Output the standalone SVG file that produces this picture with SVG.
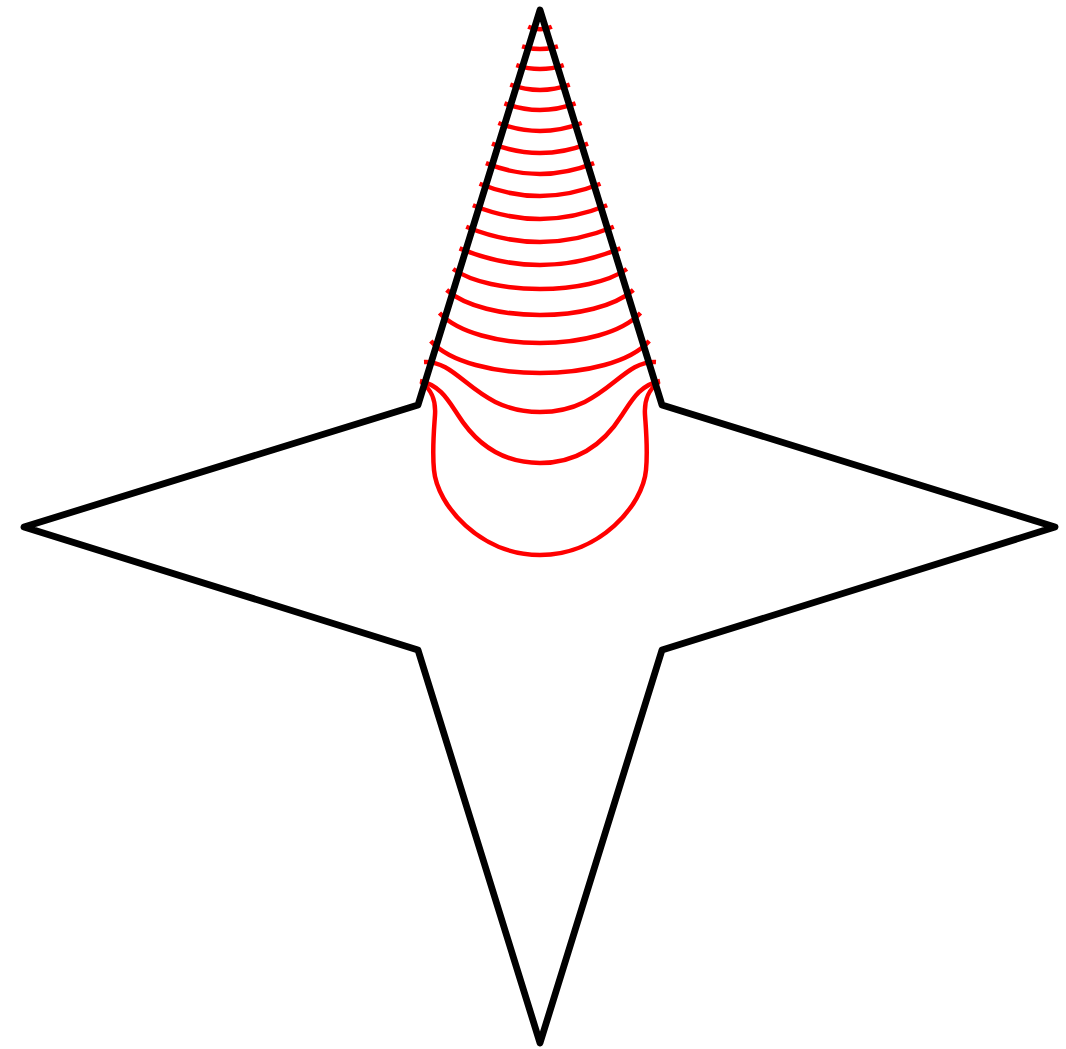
<svg xmlns="http://www.w3.org/2000/svg" width="1066" height="1049" viewBox="0 0 1066 1049">
<style>
.c{fill:none;stroke:#ff0000;stroke-width:4.5;stroke-linecap:butt}
.s{fill:none;stroke:#000000;stroke-width:6.8;stroke-linejoin:round}
</style>
<rect width="1066" height="1049" fill="#ffffff"/>
<g id="contours">
<path class="c" d="M528.2 26.7 Q540 31.9 551.8 26.7"/>
<path class="c" d="M522.1 46.33 Q540 51.67 557.9 46.33"/>
<path class="c" d="M516.3 65.03 Q540 72.97 563.7 65.03"/>
<path class="c" d="M510.25 84.67 Q540 95.33 569.75 84.67"/>
<path class="c" d="M504.45 103.37 Q540 116.63 575.55 103.37"/>
<path class="c" d="M498.37 123 Q540 139 581.63 123"/>
<path class="c" d="M492 143.57 Q540 162.43 588 143.57"/>
<path class="c" d="M485.92 163.21 Q540 184.79 594.08 163.21"/>
<path class="c" d="M479.54 183.78 Q540 208.22 600.46 183.78"/>
<path class="c" d="M472.88 205.28 Q540 232.72 607.12 205.28"/>
<path class="c" d="M466.22 226.79 Q540 257.21 613.78 226.79"/>
<path class="c" d="M459.56 248.3 Q540 281.7 620.44 248.3"/>
<path class="c" d="M453.14 269 C491.14 295.7 588.86 295.7 626.86 269"/>
<path class="c" d="M446.64 290 C484.64 323.3 595.36 323.3 633.36 290"/>
<path class="c" d="M439.5 313 C477.5 353 602.5 353 640.5 313"/>
<path class="c" d="M430.8 341 C468.8 383.7 611.2 383.7 649.2 341"/>
<path class="c" d="M424 362 C460 360 475 412 540 412 C605 412 620 360 656 362"/>
<path class="c" d="M420 381 C440 385 448 400 458 415 C475 442 500 463 540 463 C580 463 605 442 622 415 C632 400 640 385 660 381"/>
<path class="c" d="M421 382 C432 390 436 400 435 415 C434 430 432 450 434 470 C437 505 480 555 540 555 C600 555 643 505 646 470 C648 450 646 430 645 415 C644 400 648 390 659 382"/>
</g>
<g id="star">
<path class="s" d="M540 10 L662 405 L1055 527 L662 650 L540 1043 L418 650 L24 527 L418 405 Z"/>
</g>
</svg>
